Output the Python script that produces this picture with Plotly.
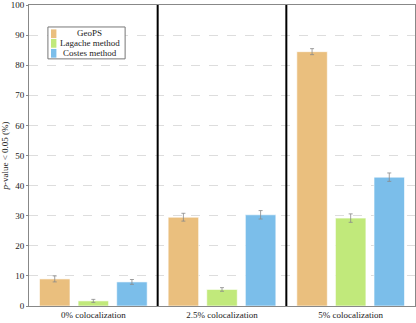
import plotly.graph_objects as go

categories = ["0% colocalization", "2.5% colocalization", "5% colocalization"]
methods = ["GeoPS", "Lagache method", "Costes method"]
geops = [9.0, 29.5, 84.5]
geops_err = [1.0, 1.3, 1.0]
lagache = [1.7, 5.5, 29.2]
lagache_err = [0.5, 0.6, 1.4]
costes = [8.0, 30.3, 42.8]
costes_err = [0.8, 1.4, 1.4]
colors = ["#EABF7E", "#C1E97B", "#7BBEEA"]

font = "Liberation Serif, DejaVu Serif, serif"

fig = go.Figure()
for name, vals, errs, col in zip(methods, [geops, lagache, costes],
                                 [geops_err, lagache_err, costes_err], colors):
    fig.add_trace(go.Bar(
        x=categories, y=vals, name=name, showlegend=False,
        marker=dict(color=col, line=dict(color="rgba(255,255,255,0.6)", width=1)),
        error_y=dict(type="data", array=errs, color="#8a8a8a", thickness=0.8, width=2),
    ))

# thick black separators between the groups
for i in range(len(categories) - 1):
    fig.add_shape(type="line", xref="x", yref="paper", x0=i + 0.5, x1=i + 0.5,
                  y0=0, y1=1, line=dict(color="black", width=2))

# small hand-made legend box (pgfplots style)
fig.add_shape(type="rect", xref="paper", yref="paper", x0=0.049, x1=0.249,
              y0=0.821, y1=0.927, line=dict(color="#777", width=1),
              fillcolor="white", layer="above")
row_y = [0.907, 0.875, 0.842]
for name, col, yy in zip(methods, colors, row_y):
    fig.add_shape(type="rect", xref="paper", yref="paper", x0=0.057, x1=0.071,
                  y0=yy - 0.017, y1=yy + 0.012, line=dict(width=0),
                  fillcolor=col, layer="above")
    fig.add_annotation(x=0.157, y=yy, xref="paper", yref="paper", text=name,
                       showarrow=False, xanchor="center", yanchor="middle",
                       font=dict(size=9, family=font, color="#222"))

fig.update_layout(
    width=416, height=323,
    margin=dict(l=29, r=1, t=5, b=17),
    paper_bgcolor="white", plot_bgcolor="white",
    barmode="group", bargap=0.1, bargroupgap=0.21,
    font=dict(family=font, size=9, color="#222"),
    showlegend=False,
)
fig.update_xaxes(showline=True, linecolor="#888", linewidth=1, mirror=True,
                 ticks="", tickfont=dict(size=9))
fig.update_yaxes(range=[0, 100], dtick=10, showline=True, linecolor="#888",
                 linewidth=1, mirror=True, ticks="outside", ticklen=2,
                 tickcolor="#888", showgrid=True, gridcolor="#dddddd",
                 griddash="dash", gridwidth=0.8, zeroline=False,
                 tickfont=dict(size=9),
                 title=dict(text="<i>p</i>-value < 0.05 (%)", font=dict(size=9),
                            standoff=3))

fig.write_html("out.html", config={"displayModeBar": False},
               post_script="document.body.style.margin='0px';")
